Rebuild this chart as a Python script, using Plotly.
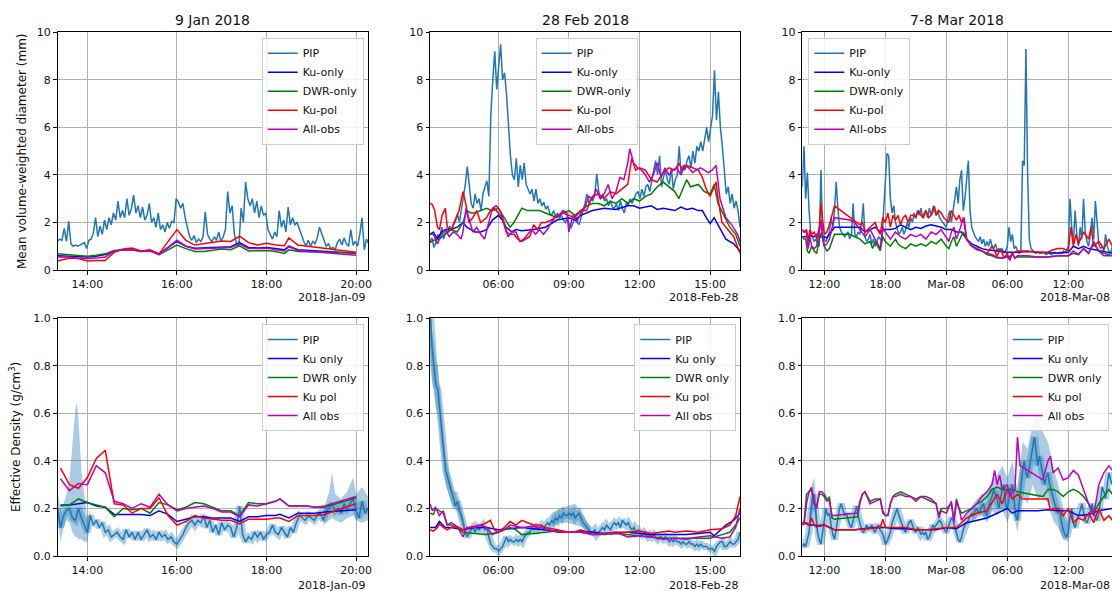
import pandas as pd
import plotly.graph_objects as go

# ======================= DATA =======================
# ---------- 9 Jan 2018 ----------
JAN_DATE = "2018-01-09"
jan_pip_dm_start, jan_pip_dm_step = "13:20", 3   # minutes
jan_pip_dm = [1.20, 1.30, 1.25, 1.75, 1.20, 2.05, 1.10, 1.00, 1.05, 1.00, 1.05, 1.10, 1.15, 0.90,
              1.25, 1.30, 1.55, 2.20, 1.40, 1.85, 1.50, 2.10, 1.70, 2.20, 1.90, 2.40, 2.10, 2.90,
              2.20, 2.50, 2.20, 3.00, 2.30, 2.60, 3.15, 2.40, 2.70, 2.20, 2.65, 2.10, 2.30, 2.80,
              2.00, 2.20, 1.80, 2.40, 1.70, 1.90, 1.60, 2.00, 1.75, 2.05, 2.00, 3.00, 2.85, 2.60,
              2.80, 2.20, 1.80, 1.40, 1.25, 1.45, 1.15, 1.30, 1.20, 1.40, 2.45, 1.50, 1.30, 1.20,
              1.40, 1.25, 1.60, 1.20, 1.40, 1.70, 3.30, 2.40, 2.70, 1.50, 1.10, 1.00, 2.60, 2.00,
              3.70, 3.00, 2.70, 3.00, 2.40, 2.90, 2.20, 2.70, 2.30, 2.40, 1.70, 1.50, 1.30, 1.60,
              1.40, 2.50, 1.80, 2.10, 1.60, 2.65, 1.90, 2.20, 1.90, 2.00, 1.70, 1.50, 1.20, 1.00,
              1.25, 1.00, 1.20, 1.10, 1.35, 1.80, 1.50, 1.20, 1.00, 1.10, 0.90, 0.95, 0.85, 1.15,
              1.30, 1.05, 1.35, 1.10, 1.00, 1.70, 1.05, 1.20, 1.00, 1.50, 2.20, 0.85, 1.30, 1.10]
jan_dm_t = ["13:20", "13:36", "13:48", "14:00", "14:12", "14:24", "14:36", "14:48", "15:00", "15:12",
            "15:24", "15:36", "16:00", "16:12", "16:24", "16:36", "16:48", "17:00", "17:12", "17:24",
            "17:36", "17:48", "18:00", "18:12", "18:24", "18:30", "18:42", "20:00"]
jan_ku_dm = [0.60, 0.58, 0.55, 0.55, 0.58, 0.65, 0.80, 0.85, 0.85, 0.80, 0.82, 0.68, 1.20, 1.00,
             0.92, 0.93, 0.95, 0.97, 0.98, 1.15, 0.95, 0.93, 0.95, 0.90, 0.85, 1.00, 0.85, 0.70]
jan_dwr_dm = [0.68, 0.65, 0.60, 0.58, 0.62, 0.68, 0.82, 0.85, 0.85, 0.78, 0.82, 0.65, 1.05, 0.90,
              0.78, 0.78, 0.82, 0.88, 0.85, 1.02, 0.80, 0.80, 0.82, 0.78, 0.70, 0.85, 0.78, 0.72]
jan_kupol_dm = [0.38, 0.50, 0.48, 0.38, 0.40, 0.40, 0.75, 0.88, 0.92, 0.80, 0.85, 0.68, 1.70, 1.25,
                1.05, 1.10, 1.15, 1.22, 1.20, 1.42, 1.15, 1.05, 1.12, 1.05, 1.02, 1.35, 1.05, 0.75]
jan_all_dm = [0.55, 0.55, 0.50, 0.48, 0.50, 0.55, 0.80, 0.85, 0.85, 0.78, 0.80, 0.65, 1.25, 1.00,
              0.88, 0.90, 0.92, 0.95, 0.95, 1.10, 0.90, 0.90, 0.92, 0.85, 0.80, 0.98, 0.82, 0.62]

jan_pip_rho_start, jan_pip_rho_step = "13:20", 4
jan_pip_rho = [0.20, 0.12, 0.17, 0.19, 0.20, 0.16, 0.15, 0.20, 0.16, 0.13, 0.10, 0.17, 0.13, 0.15,
               0.12, 0.14, 0.10, 0.11, 0.08, 0.09, 0.10, 0.08, 0.07, 0.11, 0.08, 0.10, 0.07, 0.10,
               0.07, 0.09, 0.11, 0.08, 0.09, 0.07, 0.10, 0.08, 0.09, 0.07, 0.08, 0.06, 0.05, 0.07,
               0.09, 0.12, 0.14, 0.15, 0.13, 0.15, 0.14, 0.17, 0.12, 0.15, 0.10, 0.13, 0.09, 0.14,
               0.11, 0.13, 0.12, 0.08, 0.12, 0.21, 0.09, 0.06, 0.08, 0.07, 0.10, 0.08, 0.10, 0.07,
               0.09, 0.10, 0.13, 0.10, 0.09, 0.12, 0.10, 0.08, 0.12, 0.10, 0.14, 0.17, 0.16, 0.15,
               0.17, 0.16, 0.15, 0.17, 0.18, 0.15, 0.19, 0.20, 0.22, 0.19, 0.20, 0.18, 0.22, 0.20,
               0.22, 0.24, 0.19, 0.16, 0.23, 0.18, 0.20]
jan_band_a = [("13:20", 0.17, 0.27), ("13:24", 0.06, 0.20), ("13:28", 0.12, 0.22), ("13:32", 0.15, 0.26),
              ("13:36", 0.14, 0.32), ("13:40", 0.10, 0.46), ("13:44", 0.08, 0.62), ("13:46", 0.08, 0.645),
              ("13:48", 0.07, 0.58), ("13:52", 0.07, 0.36), ("13:56", 0.06, 0.24), ("14:00", 0.06, 0.15),
              ("14:04", 0.13, 0.20)]
jan_band_b = [("19:16", 0.13, 0.19), ("19:24", 0.15, 0.27), ("19:28", 0.16, 0.35), ("19:32", 0.15, 0.26),
              ("19:40", 0.14, 0.24), ("19:48", 0.16, 0.27), ("19:56", 0.17, 0.33), ("20:00", 0.15, 0.26),
              ("20:08", 0.14, 0.29), ("20:16", 0.15, 0.25)]
jan_rho_t = ["13:24", "13:36", "13:48", "14:00", "14:12", "14:24", "14:36", "14:48", "15:00", "15:12",
             "15:24", "15:36", "15:48", "16:00", "16:12", "16:24", "16:36", "16:48", "17:00", "17:12",
             "17:24", "17:36", "17:48", "18:00", "18:12", "18:18", "18:30", "18:42", "18:54", "19:06",
             "19:18", "20:00"]
jan_ku_rho = [0.215, 0.215, 0.22, 0.225, 0.21, 0.205, 0.175, 0.175, 0.175, 0.175, 0.17, 0.19, 0.175,
              0.145, 0.155, 0.165, 0.165, 0.16, 0.16, 0.16, 0.145, 0.165, 0.165, 0.17, 0.17, 0.175,
              0.16, 0.18, 0.18, 0.18, 0.185, 0.195]
jan_dwr_rho = [0.21, 0.215, 0.24, 0.225, 0.215, 0.205, 0.165, 0.20, 0.195, 0.20, 0.18, 0.225, 0.215,
               0.195, 0.205, 0.225, 0.22, 0.205, 0.19, 0.19, 0.17, 0.225, 0.22, 0.22, 0.23, 0.24,
               0.21, 0.21, 0.21, 0.205, 0.205, 0.245]
jan_kupol_rho = [0.37, 0.30, 0.285, 0.33, 0.41, 0.445, 0.22, 0.215, 0.18, 0.20, 0.20, 0.245, 0.17,
                 0.13, 0.145, 0.17, 0.16, 0.155, 0.15, 0.15, 0.135, 0.155, 0.155, 0.155, 0.16, 0.16,
                 0.145, 0.17, 0.17, 0.17, 0.175, 0.22]
jan_all_rho = [0.325, 0.275, 0.305, 0.30, 0.38, 0.35, 0.23, 0.22, 0.20, 0.22, 0.205, 0.26, 0.215,
               0.19, 0.20, 0.205, 0.21, 0.20, 0.185, 0.185, 0.165, 0.215, 0.21, 0.22, 0.23, 0.24,
               0.21, 0.21, 0.21, 0.205, 0.21, 0.25]

# ---------- 28 Feb 2018 ----------
FEB_DATE = "2018-02-28"
feb_pip_dm_start, feb_pip_dm_step = "03:06", 5
feb_pip_dm = [1.20, 1.35, 0.95, 1.15, 1.50, 1.35, 1.80, 1.30, 1.70, 1.55, 1.85, 1.65, 1.90, 2.05,
              2.35, 2.00, 2.55, 3.00, 3.60, 4.35, 3.40, 2.80, 2.60, 3.20, 2.80, 3.00, 2.50, 3.20,
              3.50, 3.75, 3.10, 6.50, 8.00, 9.20, 7.60, 8.60, 9.50, 8.00, 8.30, 7.40, 6.00, 4.80,
              4.00, 3.80, 4.70, 3.50, 4.40, 3.80, 4.50, 3.60, 3.40, 3.20, 3.40, 2.90, 3.40, 2.80,
              3.00, 2.70, 2.85, 2.55, 2.70, 2.40, 2.30, 2.50, 2.25, 2.40, 2.20, 2.30, 2.10, 2.00,
              2.20, 1.90, 1.80, 2.00, 2.30, 2.00, 1.90, 2.20, 2.40, 2.80, 3.20, 2.80, 3.00, 2.90,
              3.20, 4.05, 3.30, 3.00, 3.20, 2.90, 3.00, 2.70, 2.90, 2.65, 2.60, 2.80, 2.50, 2.90,
              2.60, 2.40, 2.80, 2.70, 3.00, 2.80, 3.00, 3.20, 3.30, 3.00, 3.40, 3.10, 3.50, 3.60,
              3.30, 3.80, 4.20, 4.60, 4.00, 4.80, 3.50, 3.90, 4.20, 3.80, 3.60, 4.30, 3.40, 3.80,
              4.00, 5.20, 4.00, 4.40, 4.20, 4.60, 4.80, 4.30, 5.00, 4.50, 5.20, 5.00, 5.40, 5.00,
              5.50, 6.00, 5.40, 6.00, 6.50, 8.40, 6.30, 7.50, 6.00, 5.20, 4.00, 3.20, 3.50, 2.80,
              3.20, 2.60, 2.90, 2.50, 1.80]
feb_ku_dm = [("03:06", 1.5), ("03:15", 1.6), ("03:25", 1.3), ("03:35", 1.6), ("03:45", 1.7), ("04:00", 1.7),
             ("04:15", 1.8), ("04:30", 2.0), ("04:40", 1.8), ("04:50", 1.7), ("05:00", 1.6), ("05:15", 1.6),
             ("05:30", 1.7), ("05:45", 2.1), ("06:00", 2.3), ("06:10", 2.1), ("06:20", 1.8), ("06:35", 1.6),
             ("06:45", 1.7), ("07:00", 1.65), ("07:30", 1.7), ("08:00", 1.8), ("08:30", 2.1), ("09:00", 2.2),
             ("09:15", 2.1), ("09:30", 2.3), ("09:45", 2.4), ("10:00", 2.5), ("10:30", 2.6), ("11:00", 2.55),
             ("11:30", 2.7), ("11:45", 2.7), ("12:00", 2.6), ("12:30", 2.7), ("12:45", 2.55), ("13:00", 2.6),
             ("13:30", 2.5), ("13:45", 2.65), ("14:00", 2.55), ("14:15", 2.6), ("14:30", 2.5), ("14:40", 2.5),
             ("14:50", 2.2), ("15:00", 1.95), ("15:10", 2.2), ("15:20", 1.9), ("15:40", 1.3), ("16:00", 1.1),
             ("16:16", 0.8)]
feb_dwr_dm = [("03:06", 1.15), ("03:15", 1.25), ("03:30", 1.3), ("03:45", 1.5), ("04:00", 1.7), ("04:15", 1.6),
              ("04:30", 2.0), ("04:40", 2.5), ("04:50", 2.4), ("05:00", 2.4), ("05:15", 2.5), ("05:30", 2.6),
              ("05:45", 2.5), ("06:00", 2.6), ("06:15", 2.2), ("06:30", 1.8), ("06:40", 2.0), ("06:50", 2.3),
              ("07:00", 2.6), ("07:15", 2.5), ("07:30", 2.5), ("07:45", 2.5), ("08:00", 2.4), ("08:15", 2.3),
              ("08:30", 2.2), ("08:45", 2.4), ("09:00", 2.5), ("09:15", 2.3), ("09:30", 2.5), ("09:45", 2.7),
              ("10:00", 2.8), ("10:15", 2.8), ("10:30", 2.7), ("10:45", 2.9), ("11:00", 2.8), ("11:15", 3.0),
              ("11:30", 2.8), ("11:45", 3.0), ("12:00", 2.9), ("12:15", 3.1), ("12:30", 3.2), ("12:45", 3.5),
              ("13:00", 3.7), ("13:15", 3.5), ("13:30", 3.3), ("13:40", 3.0), ("13:50", 3.4), ("14:00", 3.8),
              ("14:10", 3.5), ("14:30", 3.6), ("14:45", 3.3), ("15:00", 3.2), ("15:10", 3.6), ("15:20", 2.8),
              ("15:35", 2.3), ("15:50", 1.8), ("16:05", 1.5), ("16:16", 1.0)]
feb_kupol_dm = [("03:06", 2.8), ("03:12", 2.75), ("03:18", 2.5), ("03:25", 1.8), ("03:30", 1.7), ("03:37", 2.3),
                ("03:45", 2.6), ("03:50", 1.8), ("04:00", 1.7), ("04:10", 2.1), ("04:20", 2.5), ("04:30", 3.3),
                ("04:37", 2.8), ("04:45", 2.0), ("04:55", 2.2), ("05:05", 2.5), ("05:15", 2.0), ("05:30", 2.2),
                ("05:40", 2.5), ("05:50", 2.6), ("06:00", 2.4), ("06:10", 2.2), ("06:20", 1.6), ("06:30", 1.5),
                ("06:40", 1.5), ("06:50", 1.3), ("07:00", 1.2), ("07:10", 1.3), ("07:20", 1.4), ("07:30", 1.9),
                ("07:40", 1.7), ("07:50", 2.0), ("08:00", 2.0), ("08:15", 2.1), ("08:30", 2.3), ("08:45", 2.4),
                ("09:00", 2.3), ("09:15", 2.2), ("09:30", 2.5), ("09:45", 2.5), ("10:00", 3.1), ("10:15", 3.2),
                ("10:30", 3.0), ("10:45", 3.3), ("11:00", 3.2), ("11:15", 3.4), ("11:30", 3.6), ("11:40", 4.7),
                ("11:50", 4.2), ("12:00", 4.3), ("12:15", 4.2), ("12:30", 3.8), ("12:45", 3.7), ("13:00", 4.1),
                ("13:15", 4.3), ("13:30", 4.2), ("13:40", 4.5), ("13:50", 4.2), ("14:00", 4.4), ("14:15", 4.3),
                ("14:30", 4.2), ("14:40", 3.9), ("14:50", 3.4), ("15:00", 3.1), ("15:10", 3.5), ("15:15", 3.7),
                ("15:20", 3.0), ("15:30", 2.0), ("15:45", 1.7), ("16:00", 1.4), ("16:16", 0.7)]
feb_all_dm = [("03:06", 1.5), ("03:15", 1.5), ("03:25", 1.1), ("03:35", 1.5), ("03:45", 1.7), ("03:55", 1.4),
              ("04:05", 1.6), ("04:15", 1.5), ("04:25", 1.3), ("04:30", 1.6), ("04:38", 2.6), ("04:45", 2.2),
              ("04:55", 1.6), ("05:05", 1.8), ("05:15", 1.5), ("05:25", 1.3), ("05:35", 1.9), ("05:45", 2.6),
              ("05:55", 2.7), ("06:05", 2.5), ("06:15", 2.0), ("06:25", 1.4), ("06:35", 1.6), ("06:45", 1.6),
              ("06:55", 1.2), ("07:05", 1.3), ("07:15", 1.5), ("07:25", 1.7), ("07:35", 1.5), ("07:45", 1.7),
              ("07:55", 1.5), ("08:05", 1.7), ("08:15", 2.0), ("08:25", 2.2), ("08:35", 2.3), ("08:45", 2.5),
              ("08:55", 2.4), ("09:00", 1.6), ("09:10", 2.3), ("09:20", 2.0), ("09:30", 2.4), ("09:40", 2.6),
              ("09:50", 3.1), ("10:00", 3.0), ("10:10", 3.4), ("10:20", 3.0), ("10:30", 3.2), ("10:40", 3.6),
              ("10:50", 3.0), ("11:00", 3.3), ("11:10", 3.9), ("11:20", 3.8), ("11:30", 4.5), ("11:35", 5.1),
              ("11:45", 4.5), ("11:55", 4.3), ("12:05", 4.2), ("12:15", 4.0), ("12:25", 3.7), ("12:35", 4.0),
              ("12:45", 4.5), ("12:55", 3.9), ("13:05", 4.3), ("13:15", 4.0), ("13:25", 4.2), ("13:35", 4.3),
              ("13:45", 4.0), ("13:55", 4.4), ("14:05", 4.3), ("14:15", 4.1), ("14:25", 4.2), ("14:35", 4.3),
              ("14:45", 4.2), ("14:55", 4.1), ("15:05", 4.2), ("15:15", 4.4), ("15:25", 3.0), ("15:40", 2.2),
              ("15:55", 1.9), ("16:10", 1.5), ("16:16", 1.2)]

feb_pip_rho_start, feb_pip_rho_step = "03:06", 5
feb_pip_rho = [1.05, 0.88, 0.80, 0.72, 0.70, 0.62, 0.52, 0.44, 0.36, 0.33, 0.30, 0.27, 0.23, 0.21,
               0.23, 0.19, 0.17, 0.13, 0.10, 0.08, 0.10, 0.11, 0.12, 0.10, 0.12, 0.11, 0.12, 0.13,
               0.11, 0.12, 0.08, 0.05, 0.04, 0.03, 0.03, 0.02, 0.03, 0.04, 0.06, 0.08, 0.06, 0.07,
               0.06, 0.06, 0.07, 0.06, 0.07, 0.06, 0.08, 0.09, 0.10, 0.10, 0.12, 0.11, 0.12, 0.11,
               0.12, 0.13, 0.12, 0.13, 0.14, 0.13, 0.15, 0.14, 0.16, 0.15, 0.17, 0.16, 0.18, 0.17,
               0.17, 0.18, 0.17, 0.18, 0.16, 0.17, 0.18, 0.16, 0.14, 0.13, 0.12, 0.11, 0.10, 0.10,
               0.11, 0.09, 0.10, 0.11, 0.12, 0.11, 0.13, 0.12, 0.11, 0.13, 0.14, 0.13, 0.14, 0.12,
               0.15, 0.14, 0.13, 0.14, 0.12, 0.11, 0.12, 0.10, 0.11, 0.10, 0.09, 0.10, 0.09, 0.08,
               0.09, 0.08, 0.09, 0.08, 0.07, 0.08, 0.08, 0.07, 0.08, 0.07, 0.06, 0.07, 0.06, 0.07,
               0.06, 0.06, 0.05, 0.06, 0.05, 0.05, 0.06, 0.05, 0.05, 0.04, 0.05, 0.04, 0.05, 0.04,
               0.04, 0.04, 0.03, 0.03, 0.03, 0.02, 0.04, 0.05, 0.06, 0.06, 0.04, 0.04, 0.05, 0.06,
               0.05, 0.05, 0.06, 0.07, 0.10]
feb_band_a = [("03:06", 0.88, 1.15), ("03:11", 0.75, 0.95), ("03:16", 0.68, 0.90), ("03:21", 0.62, 0.82),
              ("03:26", 0.60, 0.80), ("03:31", 0.52, 0.70), ("03:36", 0.44, 0.60), ("03:41", 0.36, 0.50),
              ("03:46", 0.30, 0.42), ("03:51", 0.28, 0.38), ("03:56", 0.25, 0.34), ("04:06", 0.20, 0.27),
              ("04:16", 0.19, 0.27), ("04:26", 0.14, 0.20), ("04:36", 0.08, 0.13)]
feb_band_b = [("08:16", 0.12, 0.18), ("08:36", 0.14, 0.20), ("08:56", 0.14, 0.21), ("09:16", 0.13, 0.22),
              ("09:36", 0.12, 0.17), ("09:56", 0.08, 0.12)]
feb_ku_rho = [("03:06", 0.12), ("03:20", 0.12), ("03:30", 0.145), ("03:45", 0.12), ("04:00", 0.12),
              ("04:30", 0.11), ("05:00", 0.12), ("05:30", 0.12), ("06:00", 0.11), ("06:30", 0.115),
              ("07:00", 0.12), ("07:30", 0.115), ("08:00", 0.11), ("08:30", 0.105), ("09:00", 0.10),
              ("09:30", 0.105), ("10:00", 0.10), ("10:30", 0.095), ("11:00", 0.10), ("11:30", 0.10),
              ("12:00", 0.095), ("12:30", 0.09), ("13:00", 0.09), ("13:30", 0.09), ("14:00", 0.09),
              ("14:30", 0.095), ("15:00", 0.10), ("15:10", 0.085), ("15:20", 0.10), ("15:40", 0.13),
              ("16:00", 0.15), ("16:16", 0.18)]
feb_dwr_rho = [("03:06", 0.18), ("03:15", 0.175), ("03:20", 0.20), ("03:30", 0.19), ("03:40", 0.18),
               ("03:50", 0.13), ("04:00", 0.13), ("04:15", 0.12), ("04:30", 0.10), ("05:00", 0.095),
               ("05:30", 0.09), ("06:00", 0.10), ("06:15", 0.11), ("06:30", 0.12), ("06:45", 0.11),
               ("07:00", 0.09), ("07:30", 0.095), ("08:00", 0.10), ("08:30", 0.105), ("09:00", 0.10),
               ("09:30", 0.10), ("10:00", 0.09), ("10:30", 0.09), ("11:00", 0.095), ("11:30", 0.09),
               ("12:00", 0.085), ("12:30", 0.08), ("13:00", 0.075), ("13:30", 0.075), ("14:00", 0.075),
               ("14:30", 0.075), ("15:00", 0.075), ("15:30", 0.09), ("15:50", 0.10), ("16:05", 0.13),
               ("16:16", 0.16)]
feb_kupol_rho = [("03:06", 0.11), ("03:15", 0.105), ("03:25", 0.12), ("03:30", 0.135), ("03:40", 0.12),
                 ("03:50", 0.11), ("04:00", 0.12), ("04:15", 0.125), ("04:30", 0.11), ("04:45", 0.12),
                 ("05:00", 0.125), ("05:15", 0.13), ("05:30", 0.14), ("05:40", 0.15), ("05:50", 0.11),
                 ("06:00", 0.10), ("06:15", 0.12), ("06:30", 0.145), ("06:45", 0.13), ("07:00", 0.15),
                 ("07:15", 0.14), ("07:30", 0.13), ("07:45", 0.13), ("08:00", 0.12), ("08:30", 0.11),
                 ("09:00", 0.10), ("09:15", 0.10), ("09:30", 0.11), ("09:45", 0.10), ("10:00", 0.09),
                 ("10:30", 0.095), ("11:00", 0.095), ("11:30", 0.10), ("12:00", 0.105), ("12:30", 0.095),
                 ("13:00", 0.10), ("13:15", 0.105), ("13:30", 0.10), ("14:00", 0.105), ("14:30", 0.10),
                 ("15:00", 0.11), ("15:30", 0.115), ("15:50", 0.13), ("16:05", 0.17), ("16:16", 0.25)]
feb_all_rho = [("03:06", 0.22), ("03:12", 0.19), ("03:20", 0.205), ("03:30", 0.17), ("03:40", 0.19),
               ("03:50", 0.13), ("04:00", 0.14), ("04:10", 0.13), ("04:20", 0.11), ("04:30", 0.08),
               ("04:40", 0.12), ("05:00", 0.12), ("05:15", 0.13), ("05:30", 0.12), ("05:45", 0.09),
               ("06:00", 0.10), ("06:15", 0.11), ("06:30", 0.13), ("06:45", 0.125), ("07:00", 0.12),
               ("07:30", 0.125), ("08:00", 0.115), ("08:30", 0.10), ("09:00", 0.10), ("09:30", 0.10),
               ("10:00", 0.09), ("10:30", 0.095), ("11:00", 0.10), ("11:30", 0.08), ("12:00", 0.085),
               ("12:30", 0.08), ("13:00", 0.07), ("13:30", 0.075), ("14:00", 0.07), ("14:30", 0.08),
               ("15:00", 0.085), ("15:30", 0.075), ("15:50", 0.08), ("16:05", 0.12), ("16:16", 0.20)]

# ---------- 7-8 Mar 2018 ----------
MAR_MONTH = "2018-03"
mar_pip_dm_start, mar_pip_dm_step = "7 09:50", 10
mar_pip_dm = [3.5, 5.2, 3.0, 4.1, 2.5, 1.5, 1.4, 1.2, 1.3, 1.1, 1.0, 4.2, 1.5, 1.3, 1.2, 1.4, 1.6, 2.2,
              1.8, 2.5, 3.7, 2.6, 1.8, 1.6, 1.5, 1.4, 1.5, 1.6, 1.3, 1.5, 2.8, 1.5, 1.4, 1.6, 1.5, 2.0,
              2.8, 1.4, 1.2, 1.3, 1.5, 1.1, 1.3, 1.0, 1.2, 1.4, 1.3, 1.2, 2.5, 4.0, 4.9, 4.8, 3.0, 2.4,
              2.7, 2.0, 1.7, 1.5, 1.6, 1.8, 1.5, 1.7, 2.0, 1.8, 2.2, 2.0, 2.4, 2.2, 2.5, 2.3, 2.6, 2.2,
              2.4, 2.5, 2.2, 2.6, 2.3, 2.4, 2.7, 2.3, 2.5, 2.2, 2.1, 2.0, 1.9, 1.8, 2.2, 2.5, 2.0, 2.5,
              3.0, 3.5, 2.8, 3.8, 4.2, 2.5, 3.0, 3.8, 4.6, 2.5, 1.8, 1.6, 1.4, 1.3, 1.2, 1.4, 1.1, 1.3,
              1.0, 1.2, 1.0, 1.3, 1.0, 0.9, 1.1, 0.8, 0.9, 0.8, 0.9, 0.7, 0.8, 1.0, 1.8, 1.2, 1.5, 0.9,
              1.0, 0.8, 0.7, 0.8, 4.6, 4.4, 9.3, 4.0, 1.3, 0.9, 0.8, 0.75, 0.7, 0.75, 0.7, 0.7, 0.75, 0.7,
              0.65, 0.7, 0.7, 0.65, 0.7, 0.75, 0.7, 0.7, 0.75, 0.7, 0.8, 0.75, 0.8, 1.0, 3.0, 1.8, 1.2, 2.5,
              1.5, 1.0, 1.8, 1.3, 3.0, 1.6, 1.2, 1.0, 1.5, 2.2, 1.3, 2.9, 2.0, 1.1, 0.9, 1.0, 0.8, 1.5,
              1.0, 0.8, 0.7, 1.0]
mar_ku_dm = [("7 09:50", 1.4), ("7 10:15", 1.4), ("7 10:30", 1.45), ("7 11:00", 1.4), ("7 11:15", 1.5),
             ("7 11:30", 1.4), ("7 12:00", 1.4), ("7 12:15", 1.35), ("7 12:30", 1.5), ("7 13:00", 1.8),
             ("7 15:30", 1.8), ("7 16:00", 1.6), ("7 16:30", 1.7), ("7 17:00", 1.8), ("7 17:30", 1.6),
             ("7 18:00", 1.7), ("7 18:30", 1.7), ("7 19:00", 1.75), ("7 19:30", 1.9), ("7 20:00", 1.8),
             ("7 20:30", 1.7), ("7 21:00", 1.8), ("7 21:30", 1.75), ("7 22:00", 1.85), ("7 22:30", 1.9),
             ("7 23:00", 1.85), ("7 23:30", 1.8), ("8 00:00", 1.7), ("8 00:30", 1.7), ("8 01:00", 1.6),
             ("8 01:30", 1.6), ("8 02:00", 1.3), ("8 02:30", 1.1), ("8 03:00", 1.0), ("8 03:30", 0.9),
             ("8 04:00", 0.85), ("8 05:00", 0.8), ("8 06:00", 0.75), ("8 07:00", 0.75), ("8 08:00", 0.78),
             ("8 09:00", 0.75), ("8 10:00", 0.72), ("8 11:00", 0.7), ("8 12:00", 0.75), ("8 12:30", 1.0),
             ("8 13:00", 0.9), ("8 13:30", 1.0), ("8 14:00", 0.9), ("8 15:00", 0.8), ("8 16:20", 0.7)]
mar_dwr_dm = [("7 09:50", 1.4), ("7 10:00", 1.3), ("7 10:10", 1.3), ("7 10:20", 0.8), ("7 10:30", 0.7),
              ("7 10:45", 1.0), ("7 11:00", 0.8), ("7 11:15", 0.7), ("7 11:30", 1.3), ("7 11:45", 1.6),
              ("7 12:00", 1.0), ("7 12:15", 0.8), ("7 12:30", 0.9), ("7 13:00", 1.5), ("7 14:00", 1.5),
              ("7 14:30", 1.5), ("7 15:00", 1.4), ("7 15:30", 1.3), ("7 16:00", 1.1), ("7 16:30", 1.2),
              ("7 16:45", 0.9), ("7 17:00", 1.2), ("7 17:15", 1.0), ("7 17:30", 0.8), ("7 17:45", 1.4),
              ("7 18:00", 1.2), ("7 18:30", 1.0), ("7 19:00", 1.3), ("7 19:15", 1.1), ("7 19:30", 1.0),
              ("7 20:00", 0.9), ("7 20:30", 1.1), ("7 21:00", 1.0), ("7 21:30", 1.1), ("7 22:00", 1.0),
              ("7 22:30", 1.2), ("7 23:00", 1.1), ("7 23:30", 1.3), ("8 00:00", 1.0), ("8 00:15", 0.9),
              ("8 00:30", 1.2), ("8 00:45", 1.4), ("8 01:00", 1.0), ("8 01:20", 1.3), ("8 01:40", 1.6),
              ("8 02:00", 1.3), ("8 02:30", 1.0), ("8 03:00", 0.85), ("8 03:30", 0.8), ("8 04:00", 0.65),
              ("8 04:30", 0.6), ("8 05:00", 0.5), ("8 05:30", 0.5), ("8 06:00", 0.55), ("8 06:15", 0.45),
              ("8 06:30", 0.7), ("8 06:45", 0.5), ("8 07:00", 0.55), ("8 08:00", 0.55), ("8 09:00", 0.55),
              ("8 10:00", 0.55), ("8 11:00", 0.6), ("8 12:00", 0.6), ("8 12:30", 0.7), ("8 13:00", 0.65),
              ("8 13:30", 0.9), ("8 14:00", 0.7), ("8 14:30", 1.1), ("8 15:00", 0.8), ("8 15:30", 0.7),
              ("8 16:20", 0.6)]
mar_kupol_dm = [("7 09:50", 1.7), ("7 10:00", 1.6), ("7 10:15", 1.7), ("7 10:25", 1.2), ("7 10:35", 1.7),
                ("7 10:45", 1.5), ("7 11:00", 1.6), ("7 11:15", 1.3), ("7 11:30", 1.8), ("7 11:40", 2.8),
                ("7 11:50", 2.1), ("7 12:00", 1.5), ("7 12:15", 1.6), ("7 12:30", 1.9), ("7 13:00", 2.7),
                ("7 15:30", 1.9), ("7 15:45", 2.0), ("7 16:00", 1.6), ("7 16:30", 1.8), ("7 17:00", 2.0),
                ("7 17:15", 1.7), ("7 17:30", 1.5), ("7 17:45", 2.2), ("7 18:00", 2.0), ("7 18:15", 2.4),
                ("7 18:30", 1.8), ("7 18:45", 2.3), ("7 19:00", 2.1), ("7 19:15", 2.3), ("7 19:30", 1.9),
                ("7 19:45", 2.2), ("7 20:00", 2.3), ("7 20:15", 2.0), ("7 20:30", 2.3), ("7 20:45", 2.3),
                ("7 21:00", 2.2), ("7 21:15", 2.5), ("7 21:30", 2.3), ("7 21:45", 2.2), ("7 22:00", 2.5),
                ("7 22:15", 2.2), ("7 22:30", 2.3), ("7 22:45", 2.7), ("7 23:00", 2.3), ("7 23:15", 2.5),
                ("7 23:30", 2.4), ("7 23:45", 2.2), ("8 00:00", 2.1), ("8 00:15", 2.0), ("8 00:30", 2.5),
                ("8 00:45", 2.3), ("8 01:00", 2.1), ("8 01:15", 2.3), ("8 01:30", 2.0), ("8 01:45", 2.2),
                ("8 02:00", 1.3), ("8 02:30", 1.0), ("8 03:00", 0.9), ("8 03:30", 0.8), ("8 04:00", 0.7),
                ("8 04:30", 1.0), ("8 05:00", 0.6), ("8 05:20", 0.9), ("8 05:40", 0.5), ("8 06:00", 0.7),
                ("8 06:10", 0.5), ("8 06:30", 0.7), ("8 07:00", 0.8), ("8 08:00", 0.8), ("8 09:00", 0.75),
                ("8 10:00", 0.75), ("8 10:30", 0.85), ("8 11:00", 0.9), ("8 11:30", 0.9), ("8 12:00", 0.8),
                ("8 12:15", 1.8), ("8 12:30", 1.0), ("8 12:45", 1.5), ("8 13:00", 1.1), ("8 13:30", 1.6),
                ("8 14:00", 1.3), ("8 14:15", 1.8), ("8 14:30", 1.0), ("8 15:00", 1.2), ("8 15:30", 0.9),
                ("8 16:00", 1.3), ("8 16:20", 1.0)]
mar_all_dm = [("7 09:50", 1.7), ("7 10:00", 1.6), ("7 10:15", 1.6), ("7 10:25", 0.9), ("7 10:35", 1.4),
              ("7 10:45", 1.0), ("7 11:00", 0.9), ("7 11:15", 1.0), ("7 11:30", 1.6), ("7 11:40", 2.1),
              ("7 11:50", 1.3), ("7 12:00", 1.0), ("7 12:15", 1.1), ("7 12:30", 1.3), ("7 13:00", 2.2),
              ("7 14:30", 2.1), ("7 15:00", 2.0), ("7 15:30", 1.7), ("7 16:00", 1.4), ("7 16:30", 1.7),
              ("7 17:00", 1.3), ("7 17:15", 1.1), ("7 17:30", 0.9), ("7 17:45", 1.8), ("7 18:00", 1.6),
              ("7 18:30", 1.3), ("7 19:00", 1.6), ("7 19:30", 1.4), ("7 20:00", 1.3), ("7 20:30", 1.5),
              ("7 21:00", 1.4), ("7 21:30", 1.5), ("7 22:00", 1.3), ("7 22:30", 1.6), ("7 23:00", 1.5),
              ("7 23:30", 1.7), ("8 00:00", 1.4), ("8 00:15", 1.2), ("8 00:30", 1.6), ("8 00:45", 1.8),
              ("8 01:00", 1.3), ("8 01:20", 1.7), ("8 01:40", 2.2), ("8 02:00", 1.3), ("8 02:30", 1.0),
              ("8 03:00", 0.9), ("8 03:30", 0.8), ("8 04:00", 0.7), ("8 04:30", 0.65), ("8 05:00", 0.55),
              ("8 05:30", 0.5), ("8 06:00", 0.6), ("8 06:15", 0.4), ("8 06:30", 0.7), ("8 06:45", 0.5),
              ("8 07:00", 0.6), ("8 08:00", 0.6), ("8 09:00", 0.55), ("8 10:00", 0.55), ("8 11:00", 0.6),
              ("8 12:00", 0.6), ("8 12:30", 0.8), ("8 13:00", 0.65), ("8 13:30", 0.9), ("8 14:00", 0.7),
              ("8 14:30", 1.2), ("8 15:00", 0.8), ("8 15:30", 0.6), ("8 16:20", 0.6)]

mar_pip_rho_start, mar_pip_rho_step = "7 09:50", 10
mar_pip_rho = [0.04, 0.05, 0.04, 0.07, 0.10, 0.18, 0.24, 0.26, 0.18, 0.10, 0.07, 0.05, 0.10, 0.15,
               0.20, 0.17, 0.18, 0.13, 0.09, 0.07, 0.12, 0.17, 0.20, 0.22, 0.19, 0.17, 0.18, 0.15,
               0.13, 0.12, 0.15, 0.19, 0.21, 0.17, 0.14, 0.11, 0.10, 0.11, 0.13, 0.11, 0.12, 0.13,
               0.11, 0.10, 0.12, 0.13, 0.11, 0.10, 0.08, 0.05, 0.06, 0.08, 0.10, 0.14, 0.16, 0.18,
               0.20, 0.17, 0.15, 0.13, 0.11, 0.10, 0.12, 0.14, 0.15, 0.13, 0.11, 0.10, 0.12, 0.11,
               0.09, 0.10, 0.09, 0.10, 0.07, 0.08, 0.11, 0.13, 0.12, 0.13, 0.14, 0.15, 0.14, 0.12,
               0.11, 0.10, 0.12, 0.14, 0.16, 0.15, 0.12, 0.09, 0.07, 0.06, 0.08, 0.11, 0.13, 0.14,
               0.15, 0.17, 0.18, 0.17, 0.19, 0.20, 0.18, 0.19, 0.21, 0.22, 0.18, 0.17, 0.21, 0.23,
               0.25, 0.28, 0.26, 0.24, 0.20, 0.25, 0.28, 0.30, 0.22, 0.20, 0.24, 0.28, 0.30, 0.22,
               0.17, 0.15, 0.22, 0.30, 0.36, 0.40, 0.35, 0.33, 0.37, 0.42, 0.46, 0.50, 0.44, 0.38,
               0.42, 0.38, 0.35, 0.30, 0.33, 0.35, 0.30, 0.27, 0.25, 0.22, 0.20, 0.18, 0.20, 0.14,
               0.11, 0.09, 0.08, 0.10, 0.16, 0.20, 0.14, 0.12, 0.15, 0.17, 0.19, 0.22, 0.18, 0.15,
               0.14, 0.16, 0.19, 0.22, 0.19, 0.16, 0.15, 0.18, 0.23, 0.29, 0.27, 0.24, 0.30, 0.35,
               0.32, 0.30]
mar_band_a = [("7 10:30", 0.08, 0.16), ("7 10:40", 0.13, 0.26), ("7 10:50", 0.18, 0.31), ("7 11:00", 0.19, 0.33),
              ("7 11:10", 0.12, 0.25), ("7 11:20", 0.07, 0.14)]
mar_band_b = [("8 02:30", 0.15, 0.21), ("8 03:00", 0.16, 0.24), ("8 03:30", 0.17, 0.26), ("8 04:00", 0.14, 0.27),
              ("8 04:30", 0.19, 0.32), ("8 05:00", 0.17, 0.34), ("8 05:30", 0.20, 0.38), ("8 06:00", 0.14, 0.33),
              ("8 06:30", 0.20, 0.40), ("8 07:00", 0.10, 0.28), ("8 07:30", 0.25, 0.48), ("8 08:00", 0.22, 0.45),
              ("8 08:30", 0.30, 0.56), ("8 09:00", 0.24, 0.60), ("8 09:30", 0.25, 0.52), ("8 10:00", 0.22, 0.48),
              ("8 10:30", 0.15, 0.38), ("8 11:00", 0.12, 0.30), ("8 11:30", 0.07, 0.20), ("8 12:00", 0.06, 0.14)]
mar_ku_rho = [("7 09:50", 0.14), ("7 10:00", 0.14), ("7 10:30", 0.13), ("7 11:00", 0.13), ("7 11:30", 0.125),
              ("7 12:00", 0.13), ("7 12:30", 0.12), ("7 13:00", 0.11), ("7 15:00", 0.11), ("7 16:00", 0.115),
              ("7 17:00", 0.12), ("7 18:00", 0.12), ("7 19:00", 0.115), ("7 20:00", 0.115), ("7 21:00", 0.11),
              ("7 22:00", 0.11), ("7 23:00", 0.11), ("8 00:00", 0.12), ("8 01:00", 0.115), ("8 02:00", 0.14),
              ("8 03:00", 0.15), ("8 04:00", 0.16), ("8 05:00", 0.18), ("8 06:00", 0.20), ("8 06:30", 0.18),
              ("8 07:00", 0.19), ("8 08:00", 0.19), ("8 09:00", 0.19), ("8 10:00", 0.195), ("8 11:00", 0.19),
              ("8 12:00", 0.19), ("8 13:00", 0.17), ("8 14:00", 0.175), ("8 15:00", 0.19), ("8 16:20", 0.20)]
mar_dwr_rho = [("7 09:50", 0.14), ("7 10:00", 0.14), ("7 10:15", 0.26), ("7 10:30", 0.27), ("7 10:45", 0.28),
               ("7 11:00", 0.22), ("7 11:15", 0.21), ("7 11:30", 0.26), ("7 11:45", 0.26), ("7 12:00", 0.25),
               ("7 12:15", 0.23), ("7 12:30", 0.25), ("7 12:45", 0.16), ("7 13:00", 0.155), ("7 15:00", 0.165),
               ("7 15:15", 0.165), ("7 15:30", 0.22), ("7 15:45", 0.26), ("7 16:00", 0.27), ("7 16:30", 0.23),
               ("7 17:00", 0.24), ("7 17:30", 0.24), ("7 17:45", 0.18), ("7 18:00", 0.17), ("7 18:15", 0.17),
               ("7 18:30", 0.22), ("7 18:45", 0.25), ("7 19:00", 0.26), ("7 19:30", 0.27), ("7 20:00", 0.26),
               ("7 20:30", 0.25), ("7 21:00", 0.24), ("7 21:30", 0.25), ("7 22:00", 0.24), ("7 22:30", 0.23),
               ("7 23:00", 0.22), ("7 23:15", 0.17), ("7 23:30", 0.20), ("8 00:00", 0.20), ("8 00:30", 0.22),
               ("8 00:45", 0.15), ("8 01:00", 0.24), ("8 01:15", 0.20), ("8 01:30", 0.18), ("8 02:00", 0.19),
               ("8 02:30", 0.20), ("8 03:00", 0.22), ("8 03:30", 0.23), ("8 04:00", 0.25), ("8 04:30", 0.28),
               ("8 05:00", 0.29), ("8 05:30", 0.28), ("8 06:00", 0.28), ("8 06:30", 0.28), ("8 07:00", 0.27),
               ("8 09:30", 0.25), ("8 10:00", 0.28), ("8 10:30", 0.28), ("8 11:00", 0.27), ("8 11:30", 0.25),
               ("8 12:00", 0.27), ("8 12:30", 0.28), ("8 13:00", 0.27), ("8 13:30", 0.25), ("8 14:00", 0.22),
               ("8 14:30", 0.18), ("8 15:00", 0.22), ("8 15:30", 0.25), ("8 16:00", 0.28), ("8 16:20", 0.26)]
mar_kupol_rho = [("7 09:50", 0.13), ("7 10:00", 0.14), ("7 10:15", 0.14), ("7 10:30", 0.13), ("7 10:45", 0.16),
                 ("7 11:00", 0.13), ("7 11:15", 0.12), ("7 11:30", 0.13), ("7 12:00", 0.13), ("7 12:30", 0.12),
                 ("7 13:00", 0.11), ("7 15:00", 0.11), ("7 16:00", 0.115), ("7 17:00", 0.12), ("7 17:30", 0.12),
                 ("7 17:45", 0.155), ("7 18:00", 0.12), ("7 19:00", 0.12), ("7 20:00", 0.12), ("7 21:00", 0.11),
                 ("7 22:00", 0.11), ("7 23:00", 0.115), ("8 00:00", 0.12), ("8 01:00", 0.12), ("8 02:00", 0.16),
                 ("8 03:00", 0.18), ("8 04:00", 0.19), ("8 05:00", 0.26), ("8 05:30", 0.22), ("8 06:00", 0.28),
                 ("8 06:30", 0.24), ("8 07:00", 0.26), ("8 07:30", 0.24), ("8 10:00", 0.24), ("8 10:15", 0.19),
                 ("8 10:30", 0.20), ("8 11:00", 0.20), ("8 11:30", 0.17), ("8 12:00", 0.20), ("8 12:30", 0.14),
                 ("8 13:00", 0.16), ("8 13:30", 0.15), ("8 14:00", 0.18), ("8 14:30", 0.14), ("8 15:00", 0.20),
                 ("8 15:30", 0.15), ("8 16:00", 0.17), ("8 16:20", 0.15)]
mar_all_rho = [("7 09:50", 0.14), ("7 10:00", 0.13), ("7 10:15", 0.22), ("7 10:30", 0.27), ("7 10:45", 0.29),
               ("7 11:00", 0.22), ("7 11:15", 0.20), ("7 11:30", 0.27), ("7 11:45", 0.27), ("7 12:00", 0.26),
               ("7 12:15", 0.24), ("7 12:30", 0.23), ("7 12:45", 0.17), ("7 13:00", 0.17), ("7 15:00", 0.18),
               ("7 15:15", 0.18), ("7 15:30", 0.23), ("7 15:45", 0.26), ("7 16:00", 0.27), ("7 16:30", 0.22),
               ("7 17:00", 0.23), ("7 17:30", 0.24), ("7 17:45", 0.19), ("7 18:00", 0.17), ("7 18:15", 0.17),
               ("7 18:30", 0.22), ("7 18:45", 0.25), ("7 19:00", 0.25), ("7 19:30", 0.26), ("7 20:00", 0.25),
               ("7 20:30", 0.25), ("7 21:00", 0.23), ("7 21:30", 0.25), ("7 22:00", 0.25), ("7 22:30", 0.24),
               ("7 23:00", 0.22), ("7 23:15", 0.16), ("7 23:30", 0.19), ("8 00:00", 0.18), ("8 00:30", 0.23),
               ("8 00:45", 0.14), ("8 01:00", 0.23), ("8 01:15", 0.20), ("8 01:30", 0.15), ("8 02:00", 0.18),
               ("8 02:30", 0.20), ("8 03:00", 0.22), ("8 03:30", 0.25), ("8 04:00", 0.27), ("8 04:30", 0.30),
               ("8 04:45", 0.36), ("8 05:00", 0.30), ("8 05:15", 0.34), ("8 05:30", 0.28), ("8 06:00", 0.30),
               ("8 06:15", 0.25), ("8 06:30", 0.27), ("8 06:45", 0.28), ("8 07:00", 0.50), ("8 07:15", 0.38),
               ("8 09:30", 0.32), ("8 10:00", 0.40), ("8 10:15", 0.42), ("8 10:30", 0.35), ("8 11:00", 0.37),
               ("8 11:30", 0.32), ("8 12:00", 0.33), ("8 12:30", 0.36), ("8 13:00", 0.34), ("8 13:30", 0.28),
               ("8 14:00", 0.22), ("8 14:30", 0.17), ("8 15:00", 0.30), ("8 15:30", 0.35), ("8 16:00", 0.38),
               ("8 16:20", 0.36)]

# axis text
panel_titles = ["9 Jan 2018", "28 Feb 2018", "7-8 Mar 2018"]
offset_labels = ["2018-Jan-09", "2018-Feb-28", "2018-Mar-08"]
names_dm = ["PIP", "Ku-only", "DWR-only", "Ku-pol", "All-obs"]
names_rho = ["PIP", "Ku only", "DWR only", "Ku pol", "All obs"]
jan_ticks = ["14:00", "16:00", "18:00", "20:00"]
feb_ticks = ["06:00", "09:00", "12:00", "15:00"]
mar_ticks = ["7 12:00", "7 18:00", "8 00:00", "8 06:00", "8 12:00"]
mar_ticktext = ["12:00", "18:00", "Mar-08", "06:00", "12:00"]

# ======================= HELPERS =======================
def jan(s): return pd.Timestamp(f"{JAN_DATE} {s}")
def feb(s): return pd.Timestamp(f"{FEB_DATE} {s}")
def mar(s):
    d, hm = s.split()
    return pd.Timestamp(f"{MAR_MONTH}-{int(d):02d} {hm}")

def grid(conv, start, step, vals):
    return list(pd.date_range(conv(start), periods=len(vals), freq=f"{step}min"))

def split(conv, pairs):
    return [conv(p[0]) for p in pairs], [p[1] for p in pairs]

W, H = 1112, 591
FONT = "DejaVu Sans"
TXT = "#111111"
GRID = "#b0b0b0"
C_PIP, C_KU, C_DWR, C_KUPOL, C_ALL = "#1f77b4", "#0000ff", "#008000", "#ff0000", "#bf00bf"
COLORS = [C_PIP, C_KU, C_DWR, C_KUPOL, C_ALL]

fig = go.Figure()

def ax(i):
    return ("x" if i == 1 else f"x{i}"), ("y" if i == 1 else f"y{i}")

def add_line(i, t, v, color, name, legend, width=1.5, showlegend=True):
    xa, ya = ax(i)
    n = min(len(t), len(v))
    fig.add_trace(go.Scatter(x=t[:n], y=v[:n], mode="lines", name=name,
                             line=dict(color=color, width=width), legend=legend,
                             showlegend=showlegend, xaxis=xa, yaxis=ya, hoverinfo="skip"))

def add_band(i, conv, band):
    xa, ya = ax(i)
    t = [conv(b[0]) for b in band]
    lo = [b[1] for b in band]
    hi = [b[2] for b in band]
    fig.add_trace(go.Scatter(x=t + t[::-1], y=hi + lo[::-1], mode="lines", fill="toself",
                             fillcolor="rgba(31,119,180,0.38)", line=dict(width=0),
                             showlegend=False, xaxis=xa, yaxis=ya, hoverinfo="skip"))

# ---- top row : diameters ----
top = [
    (jan, grid(jan, jan_pip_dm_start, jan_pip_dm_step, jan_pip_dm), jan_pip_dm,
     [(jan_dm_t, jan_ku_dm), (jan_dm_t, jan_dwr_dm), (jan_dm_t, jan_kupol_dm), (jan_dm_t, jan_all_dm)], True),
    (feb, grid(feb, feb_pip_dm_start, feb_pip_dm_step, feb_pip_dm), feb_pip_dm,
     [feb_ku_dm, feb_dwr_dm, feb_kupol_dm, feb_all_dm], False),
    (mar, grid(mar, mar_pip_dm_start, mar_pip_dm_step, mar_pip_dm), mar_pip_dm,
     [mar_ku_dm, mar_dwr_dm, mar_kupol_dm, mar_all_dm], False),
]
for k, (conv, pt, pv, models, shared) in enumerate(top):
    i = k + 1
    leg = "legend" if i == 1 else f"legend{i}"
    add_line(i, pt, pv, C_PIP, names_dm[0], leg)
    for j, m in enumerate(models):
        if shared:
            t, v = [conv(s) for s in m[0]], m[1]
        else:
            t, v = split(conv, m)
        add_line(i, t, v, COLORS[j + 1], names_dm[j + 1], leg)

# ---- bottom row : densities ----
bottom = [
    (jan, grid(jan, jan_pip_rho_start, jan_pip_rho_step, jan_pip_rho), jan_pip_rho, [jan_band_a, jan_band_b],
     [(jan_rho_t, jan_ku_rho), (jan_rho_t, jan_dwr_rho), (jan_rho_t, jan_kupol_rho), (jan_rho_t, jan_all_rho)], True),
    (feb, grid(feb, feb_pip_rho_start, feb_pip_rho_step, feb_pip_rho), feb_pip_rho, [feb_band_a, feb_band_b],
     [feb_ku_rho, feb_dwr_rho, feb_kupol_rho, feb_all_rho], False),
    (mar, grid(mar, mar_pip_rho_start, mar_pip_rho_step, mar_pip_rho), mar_pip_rho, [mar_band_a, mar_band_b],
     [mar_ku_rho, mar_dwr_rho, mar_kupol_rho, mar_all_rho], False),
]
for k, (conv, pt, pv, bands, models, shared) in enumerate(bottom):
    i = k + 4
    leg = f"legend{i}"
    for b in bands:
        add_band(i, conv, b)
    add_line(i, pt, pv, "rgba(31,119,180,0.36)", "band", leg, width=7, showlegend=False)
    add_line(i, pt, pv, C_PIP, names_rho[0], leg)
    for j, m in enumerate(models):
        if shared:
            t, v = [conv(s) for s in m[0]], m[1]
        else:
            t, v = split(conv, m)
        add_line(i, t, v, COLORS[j + 1], names_rho[j + 1], leg)

# ======================= LAYOUT =======================
def px_x(p): return p / W
def px_y(p): return 1 - p / H

xdom = [[px_x(57.5), px_x(368)], [px_x(430), px_x(740)], [px_x(802.3), 1.0]]
ydom_top = [px_y(270), px_y(32.3)]
ydom_bot = [px_y(556), px_y(318.3)]
xranges = [[jan("13:20"), jan("20:16")], [feb("03:06"), feb("16:16")], [mar("7 09:50"), mar("8 16:18")]]
tickv = [[jan(s) for s in jan_ticks], [feb(s) for s in feb_ticks], [mar(s) for s in mar_ticks]]
tickt = [jan_ticks, feb_ticks, mar_ticktext]

common = dict(showgrid=True, gridcolor=GRID, gridwidth=0.8, showline=True, linecolor="black",
              linewidth=1, mirror=True, ticks="outside", ticklen=3.5, tickwidth=0.8,
              tickcolor="black", tickfont=dict(size=11, color=TXT, family=FONT), zeroline=False,
              automargin=False)

layout = dict(template="none", width=W, height=H,
              margin=dict(l=0, r=0, t=0, b=0, pad=0, autoexpand=False),
              paper_bgcolor="white", plot_bgcolor="white",
              font=dict(family=FONT, size=11, color=TXT), showlegend=True)

for row in range(2):
    for col in range(3):
        i = row * 3 + col + 1
        xa = "xaxis" if i == 1 else f"xaxis{i}"
        ya = "yaxis" if i == 1 else f"yaxis{i}"
        xn, yn = ax(i)
        layout[xa] = dict(common, domain=xdom[col], anchor=yn, type="date", range=xranges[col],
                          tickmode="array", tickvals=tickv[col], ticktext=tickt[col])
        if row == 0:
            layout[ya] = dict(common, domain=ydom_top, anchor=xn, range=[0, 10], tickmode="array",
                              tickvals=[0, 2, 4, 6, 8, 10], ticktext=["0", "2", "4", "6", "8", "10"])
        else:
            layout[ya] = dict(common, domain=ydom_bot, anchor=xn, range=[0, 1], tickmode="array",
                              tickvals=[0, 0.2, 0.4, 0.6, 0.8, 1.0],
                              ticktext=["0.0", "0.2", "0.4", "0.6", "0.8", "1.0"])

leg_pos = [(261.7, 37.7), (535.7, 37.7), (808.3, 37.7), (261.7, 324), (634.3, 324), (1006.7, 324)]
for i, (lx, ly) in enumerate(leg_pos, start=1):
    key = "legend" if i == 1 else f"legend{i}"
    layout[key] = dict(x=px_x(lx), y=px_y(ly), xanchor="left", yanchor="top",
                       bgcolor="rgba(255,255,255,0.85)", bordercolor="#cccccc", borderwidth=1,
                       font=dict(size=11, color=TXT, family=FONT), tracegroupgap=0)

annotations = []
for col in range(3):
    cx = (xdom[col][0] + xdom[col][1]) / 2
    annotations.append(dict(text=panel_titles[col], x=cx, y=px_y(19.5), xref="paper", yref="paper",
                            showarrow=False, xanchor="center", yanchor="middle",
                            font=dict(size=14, color=TXT, family=FONT)))
    for yy in (297, 585):
        annotations.append(dict(text=offset_labels[col], x=xdom[col][1], y=px_y(yy), xref="paper",
                                yref="paper", showarrow=False, xanchor="right", yanchor="middle",
                                font=dict(size=11, color=TXT, family=FONT)))
annotations.append(dict(text="Mean volume-weighted diameter (mm)", x=px_x(22), y=px_y(151),
                        xref="paper", yref="paper", showarrow=False, textangle=-90,
                        xanchor="center", yanchor="middle", font=dict(size=12, color=TXT, family=FONT)))
annotations.append(dict(text="Effective Density (g/cm<sup>3</sup>)", x=px_x(15), y=px_y(437),
                        xref="paper", yref="paper", showarrow=False, textangle=-90,
                        xanchor="center", yanchor="middle", font=dict(size=12, color=TXT, family=FONT)))
layout["annotations"] = annotations

fig.update_layout(**layout)
fig.write_html("out.html", config={"displayModeBar": False},
               post_script="document.body.style.margin='0';document.body.style.overflow='hidden';")
